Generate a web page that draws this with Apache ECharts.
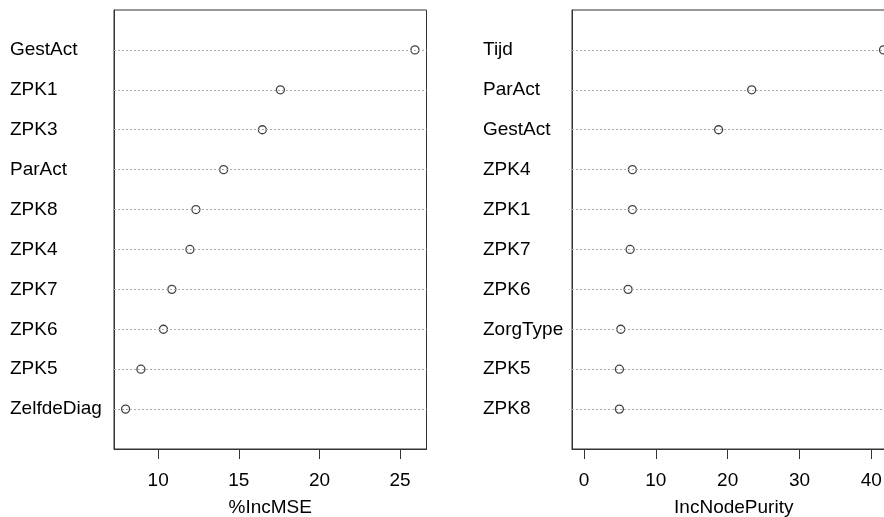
<!DOCTYPE html>
<html>
<head>
<meta charset="utf-8">
<script src="https://cdn.jsdelivr.net/npm/echarts@6/dist/echarts.min.js"></script>
<style>
  html, body { margin: 0; padding: 0; background: #fff; }
  #chart { width: 884px; height: 517px; }
</style>
</head>
<body>
<div id="chart"></div>
<script>
// rows top to bottom
const mseNames = ['GestAct', 'ZPK1', 'ZPK3', 'ParAct', 'ZPK8', 'ZPK4', 'ZPK7', 'ZPK6', 'ZPK5', 'ZelfdeDiag'];
const mseValues = [25.92, 17.58, 16.46, 14.06, 12.34, 11.97, 10.85, 10.33, 8.93, 7.98];
const mseTicks = [10, 15, 20, 25];

const purityNames = ['Tijd', 'ParAct', 'GestAct', 'ZPK4', 'ZPK1', 'ZPK7', 'ZPK6', 'ZorgType', 'ZPK5', 'ZPK8'];
const purityValues = [41.7, 23.35, 18.74, 6.74, 6.74, 6.42, 6.14, 5.12, 4.93, 4.93];
const purityTicks = [0, 10, 20, 30, 40];

const font = 'Liberation Sans, Arial, sans-serif';
const n = mseNames.length;
const rows = mseNames.map((_, i) => i + 1);

// R pads the range by 4% on each side
function pad(lo, hi) {
  const d = (hi - lo) * 0.04;
  return [lo - d, hi + d];
}
const mseRange = pad(Math.min(...mseValues), Math.max(...mseValues));
const purityRange = pad(0, Math.max(...purityValues));

// plot boxes
const boxes = [
  { left: 114, top: 10, width: 312.5, height: 439 },
  { left: 572, top: 10, width: 323.5, height: 439 }
];

// extra grid that only carries the ticks, lined up with the plot box scale
function tickGrid(box, range, ticks) {
  const ppu = box.width / (range[1] - range[0]);
  return {
    left: box.left + (ticks[0] - range[0]) * ppu,
    top: box.top,
    width: (ticks[ticks.length - 1] - ticks[0]) * ppu,
    height: box.height,
    show: false,
    outerBoundsMode: 'none'
  };
}

function xAxisFor(idx, range, ticks, name) {
  return {
    gridIndex: idx,
    type: 'value',
    min: range[0],
    max: range[1],
    name: name,
    nameLocation: 'middle',
    nameGap: 49,
    nameTextStyle: { fontFamily: font, fontSize: 19, color: '#000' },
    axisLine: { show: true, onZero: false, lineStyle: { color: '#333', width: 1 } },
    axisTick: { show: false },
    axisLabel: { fontFamily: font, fontSize: 19, color: '#000', margin: 22, customValues: ticks },
    splitLine: { show: false }
  };
}

function tickAxisFor(idx, ticks) {
  return {
    gridIndex: idx,
    type: 'value',
    min: ticks[0],
    max: ticks[ticks.length - 1],
    interval: ticks[1] - ticks[0],
    axisLine: { show: true, onZero: false, lineStyle: { color: '#333', width: 1 } },
    axisTick: { show: true, length: 10, lineStyle: { color: '#333', width: 1 } },
    axisLabel: { show: true, color: 'rgba(0,0,0,0)', fontSize: 10 },
    splitLine: { show: false }
  };
}

// first name sits on the top row (y = n)
function yAxisFor(idx, names, margin) {
  return {
    gridIndex: idx,
    type: 'value',
    min: 0,
    max: names.length + 1,
    interval: 1,
    axisLine: { show: true, onZero: false, lineStyle: { color: '#333', width: 1 } },
    axisTick: { show: false },
    splitLine: { show: false },
    axisLabel: {
      align: 'left',
      verticalAlign: 'middle',
      margin: margin,
      fontFamily: font,
      fontSize: 19,
      color: '#000',
      formatter: v => names[names.length - v] || ''
    }
  };
}

function hiddenY(idx) {
  return {
    gridIndex: idx,
    type: 'value',
    min: 0,
    max: 1,
    axisLine: { show: true, onZero: false, lineStyle: { color: 'rgba(0,0,0,0)' } },
    axisTick: { show: false },
    axisLabel: { show: false },
    splitLine: { show: false }
  };
}

function dotSeries(idx, values) {
  return [
    {
      type: 'scatter',
      xAxisIndex: idx,
      yAxisIndex: idx,
      data: [],
      z: 1,
      markLine: {
        silent: true,
        symbol: ['none', 'none'],
        label: { show: false },
        lineStyle: { color: '#aaaaaa', width: 1, type: [2, 2] },
        data: rows.map(r => ({ yAxis: r }))
      }
    },
    {
      type: 'scatter',
      xAxisIndex: idx,
      yAxisIndex: idx,
      z: 3,
      symbol: 'circle',
      symbolSize: 8,
      itemStyle: { color: '#fff', borderColor: '#111', borderWidth: 1.3 },
      data: values.map((v, i) => [v, n - i])
    }
  ];
}

const chart = echarts.init(document.getElementById('chart'));
chart.setOption({
  animation: false,
  backgroundColor: '#fff',
  grid: [
    Object.assign({ show: true, borderColor: '#333', borderWidth: 1, outerBoundsMode: 'none' }, boxes[0]),
    Object.assign({ show: true, borderColor: '#333', borderWidth: 1, outerBoundsMode: 'none' }, boxes[1]),
    tickGrid(boxes[0], mseRange, mseTicks),
    tickGrid(boxes[1], purityRange, purityTicks)
  ],
  xAxis: [
    xAxisFor(0, mseRange, mseTicks, '%IncMSE'),
    xAxisFor(1, purityRange, purityTicks, 'IncNodePurity'),
    tickAxisFor(2, mseTicks),
    tickAxisFor(3, purityTicks)
  ],
  yAxis: [
    yAxisFor(0, mseNames, 104),
    yAxisFor(1, purityNames, 89),
    hiddenY(2),
    hiddenY(3)
  ],
  series: [...dotSeries(0, mseValues), ...dotSeries(1, purityValues)]
});
</script>
</body>
</html>
